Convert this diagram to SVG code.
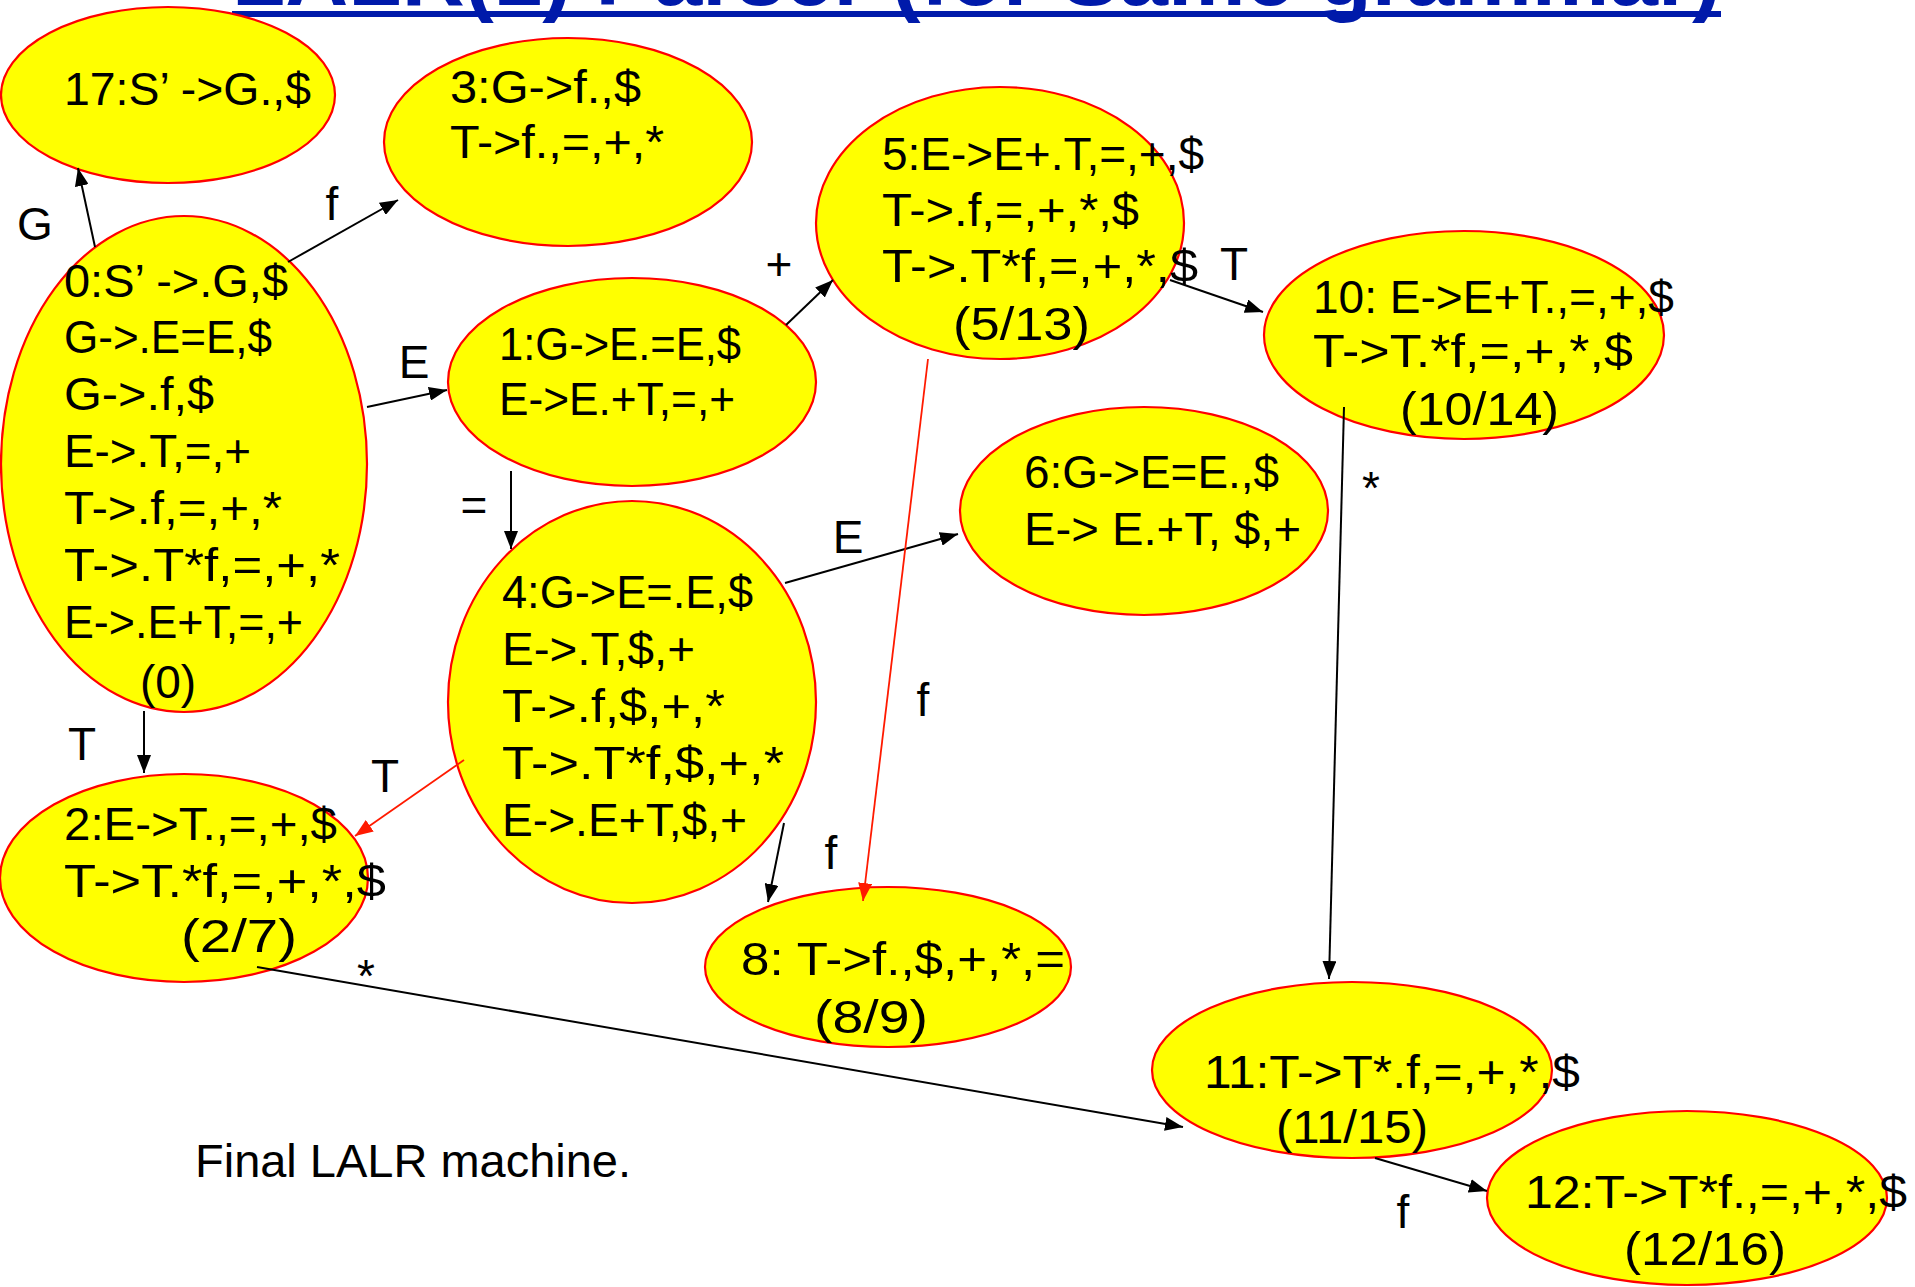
<svg xmlns="http://www.w3.org/2000/svg" width="1915" height="1287" viewBox="0 0 1915 1287">
<style>
.bg{fill:#ffffff}
.st{fill:#ffff00;stroke:#ff0000;stroke-width:2.2}
.t{font-family:"Liberation Sans",Arial,sans-serif;font-size:46px;fill:#000000}
.c{text-anchor:middle}
.e{fill:none;stroke:#000000;stroke-width:2}
.r{fill:none;stroke:#ff1a00;stroke-width:1.8}
.title{font-family:"Liberation Sans",Arial,sans-serif;font-size:86px;font-weight:bold;fill:#001aaa}
</style>
<defs>
<marker id="ab" markerUnits="userSpaceOnUse" markerWidth="20" markerHeight="14" refX="18" refY="7" orient="auto">
<path d="M0,0 L18,7 L0,14 z" fill="#000000"/>
</marker>
<marker id="ar" markerUnits="userSpaceOnUse" markerWidth="20" markerHeight="14" refX="18" refY="7" orient="auto">
<path d="M0,0 L18,7 L0,14 z" fill="#ff1a00"/>
</marker>
</defs>
<rect class="bg" x="0" y="0" width="1915" height="1287"/>
<g id="title">
<text class="title" x="232" y="5" textLength="1489" lengthAdjust="spacingAndGlyphs">LALR(1) Parser (for Same grammar)</text>
<rect x="232" y="11" width="1489" height="6" fill="#001aaa"/>
</g>
<g id="node17">
<ellipse class="st" cx="168" cy="95" rx="167" ry="88"/>
<text class="t" x="64" y="105" textLength="247" lengthAdjust="spacingAndGlyphs">17:S’ -&gt;G.,$</text>
</g>
<g id="node3">
<ellipse class="st" cx="568" cy="142" rx="184" ry="104"/>
<text class="t" x="450" y="103" textLength="191" lengthAdjust="spacingAndGlyphs">3:G-&gt;f.,$</text>
<text class="t" x="450" y="158" textLength="214" lengthAdjust="spacingAndGlyphs">T-&gt;f.,=,+,*</text>
</g>
<g id="node0">
<ellipse class="st" cx="184" cy="464" rx="183" ry="248"/>
<text class="t" x="64" y="297" textLength="224" lengthAdjust="spacingAndGlyphs">0:S’ -&gt;.G,$</text>
<text class="t" x="64" y="353" textLength="208" lengthAdjust="spacingAndGlyphs">G-&gt;.E=E,$</text>
<text class="t" x="64" y="410" textLength="150" lengthAdjust="spacingAndGlyphs">G-&gt;.f,$</text>
<text class="t" x="64" y="467" textLength="187" lengthAdjust="spacingAndGlyphs">E-&gt;.T,=,+</text>
<text class="t" x="64" y="524" textLength="218" lengthAdjust="spacingAndGlyphs">T-&gt;.f,=,+,*</text>
<text class="t" x="64" y="581" textLength="276" lengthAdjust="spacingAndGlyphs">T-&gt;.T*f,=,+,*</text>
<text class="t" x="64" y="638" textLength="239" lengthAdjust="spacingAndGlyphs">E-&gt;.E+T,=,+</text>
<text class="t c" x="168" y="698">(0)</text>
</g>
<g id="node1">
<ellipse class="st" cx="632" cy="382" rx="184" ry="104"/>
<text class="t" x="499" y="360" textLength="242" lengthAdjust="spacingAndGlyphs">1:G-&gt;E.=E,$</text>
<text class="t" x="499" y="415" textLength="236" lengthAdjust="spacingAndGlyphs">E-&gt;E.+T,=,+</text>
</g>
<g id="node4">
<ellipse class="st" cx="632" cy="702" rx="184" ry="201"/>
<text class="t" x="502" y="608" textLength="251" lengthAdjust="spacingAndGlyphs">4:G-&gt;E=.E,$</text>
<text class="t" x="502" y="665" textLength="193" lengthAdjust="spacingAndGlyphs">E-&gt;.T,$,+</text>
<text class="t" x="502" y="722" textLength="223" lengthAdjust="spacingAndGlyphs">T-&gt;.f,$,+,*</text>
<text class="t" x="502" y="779" textLength="282" lengthAdjust="spacingAndGlyphs">T-&gt;.T*f,$,+,*</text>
<text class="t" x="502" y="836" textLength="245" lengthAdjust="spacingAndGlyphs">E-&gt;.E+T,$,+</text>
</g>
<g id="node2">
<ellipse class="st" cx="184" cy="878" rx="184" ry="104"/>
<text class="t" x="64" y="840" textLength="273" lengthAdjust="spacingAndGlyphs">2:E-&gt;T.,=,+,$</text>
<text class="t" x="64" y="897" textLength="322" lengthAdjust="spacingAndGlyphs">T-&gt;T.*f,=,+,*,$</text>
<text class="t" x="181" y="952" textLength="116" lengthAdjust="spacingAndGlyphs">(2/7)</text>
</g>
<g id="node5">
<ellipse class="st" cx="1000" cy="223" rx="184" ry="136"/>
<text class="t" x="882" y="170" textLength="322" lengthAdjust="spacingAndGlyphs">5:E-&gt;E+.T,=,+,$</text>
<text class="t" x="882" y="226" textLength="257" lengthAdjust="spacingAndGlyphs">T-&gt;.f,=,+,*,$</text>
<text class="t" x="882" y="282" textLength="316" lengthAdjust="spacingAndGlyphs">T-&gt;.T*f,=,+,*,$</text>
<text class="t" x="953" y="340" textLength="137" lengthAdjust="spacingAndGlyphs">(5/13)</text>
</g>
<g id="node10">
<ellipse class="st" cx="1464" cy="335" rx="200" ry="104"/>
<text class="t" x="1313" y="313" textLength="361" lengthAdjust="spacingAndGlyphs">10: E-&gt;E+T.,=,+,$</text>
<text class="t" x="1313" y="367" textLength="320" lengthAdjust="spacingAndGlyphs">T-&gt;T.*f,=,+,*,$</text>
<text class="t" x="1400" y="425" textLength="159" lengthAdjust="spacingAndGlyphs">(10/14)</text>
</g>
<g id="node6">
<ellipse class="st" cx="1144" cy="511" rx="184" ry="104"/>
<text class="t" x="1024" y="488" textLength="255" lengthAdjust="spacingAndGlyphs">6:G-&gt;E=E.,$</text>
<text class="t" x="1024" y="545" textLength="277" lengthAdjust="spacingAndGlyphs">E-&gt; E.+T, $,+</text>
</g>
<g id="node8">
<ellipse class="st" cx="888" cy="967" rx="183" ry="80"/>
<text class="t" x="741" y="975" textLength="324" lengthAdjust="spacingAndGlyphs">8: T-&gt;f.,$,+,*,=</text>
<text class="t" x="814" y="1033" textLength="114" lengthAdjust="spacingAndGlyphs">(8/9)</text>
</g>
<g id="node11">
<ellipse class="st" cx="1352" cy="1070" rx="200" ry="88"/>
<text class="t" x="1204" y="1088" textLength="376" lengthAdjust="spacingAndGlyphs">11:T-&gt;T*.f,=,+,*,$</text>
<text class="t" x="1276" y="1143" textLength="152" lengthAdjust="spacingAndGlyphs">(11/15)</text>
</g>
<g id="node12">
<ellipse class="st" cx="1687" cy="1198" rx="200" ry="87"/>
<text class="t" x="1525" y="1208" textLength="382" lengthAdjust="spacingAndGlyphs">12:T-&gt;T*f.,=,+,*,$</text>
<text class="t" x="1624" y="1265" textLength="162" lengthAdjust="spacingAndGlyphs">(12/16)</text>
</g>
<g id="connectors">
<line class="e" x1="95" y1="247" x2="78" y2="168" marker-end="url(#ab)"/>
<line class="e" x1="288" y1="262" x2="398" y2="200" marker-end="url(#ab)"/>
<line class="e" x1="367" y1="407" x2="447" y2="390" marker-end="url(#ab)"/>
<line class="e" x1="786" y1="325" x2="833" y2="280" marker-end="url(#ab)"/>
<line class="e" x1="511" y1="471" x2="511" y2="549" marker-end="url(#ab)"/>
<line class="e" x1="144" y1="711" x2="144" y2="773" marker-end="url(#ab)"/>
<line class="r" x1="464" y1="760" x2="355" y2="836" marker-end="url(#ar)"/>
<line class="e" x1="785" y1="583" x2="958" y2="534" marker-end="url(#ab)"/>
<line class="e" x1="784" y1="823" x2="768" y2="902" marker-end="url(#ab)"/>
<line class="r" x1="928" y1="359" x2="863" y2="901" marker-end="url(#ar)"/>
<line class="e" x1="1170" y1="280" x2="1263" y2="312" marker-end="url(#ab)"/>
<line class="e" x1="1344" y1="407" x2="1329" y2="979" marker-end="url(#ab)"/>
<line class="e" x1="257" y1="967" x2="1183" y2="1127" marker-end="url(#ab)"/>
<line class="e" x1="1375" y1="1158" x2="1487" y2="1191" marker-end="url(#ab)"/>
<text class="t c" x="35" y="240">G</text>
<text class="t c" x="332" y="220">f</text>
<text class="t c" x="414" y="378">E</text>
<text class="t c" x="779" y="280">+</text>
<text class="t c" x="474" y="521">=</text>
<text class="t c" x="82" y="760">T</text>
<text class="t c" x="385" y="792">T</text>
<text class="t c" x="848" y="553">E</text>
<text class="t c" x="831" y="869">f</text>
<text class="t c" x="923" y="716">f</text>
<text class="t c" x="1234" y="280">T</text>
<text class="t c" x="1371" y="504">*</text>
<text class="t c" x="366" y="992">*</text>
<text class="t c" x="1403" y="1228">f</text>
</g>
<g id="caption">
<text class="t" x="195" y="1177" textLength="436" lengthAdjust="spacingAndGlyphs">Final LALR machine.</text>
</g>
</svg>
